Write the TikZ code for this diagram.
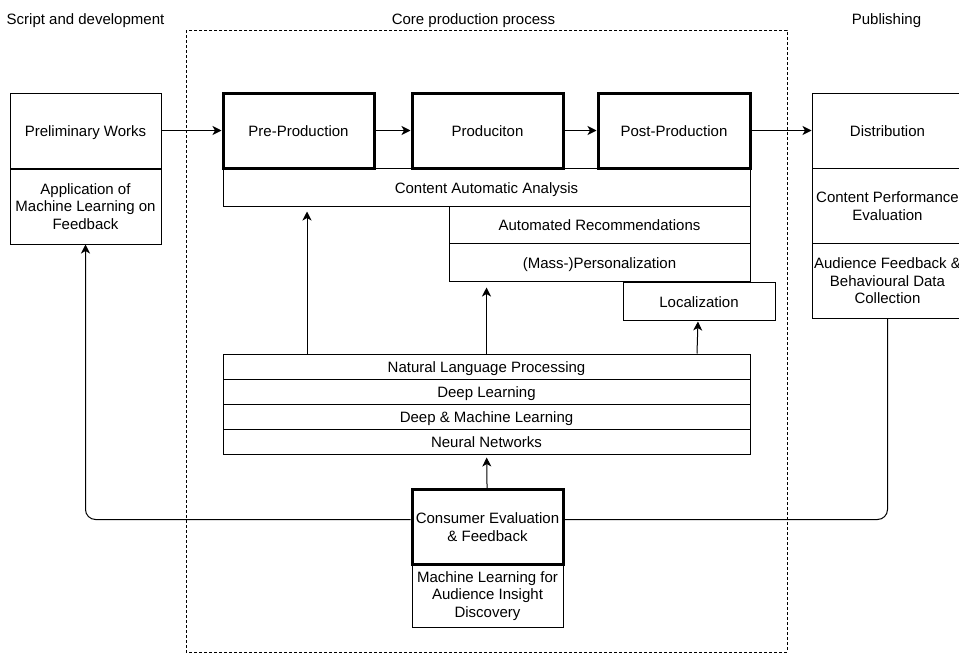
\documentclass[tikz,border=0pt]{standalone}
\usepackage{fontspec}
\setmainfont{Liberation Sans}
\usetikzlibrary{positioning,arrows.meta}

\begin{document}
\begin{tikzpicture}[x=1pt,y=-1pt,
    every node/.style={font=\fontsize{15}{17.5}\selectfont},
    oneline/.style={text height=12.7pt,text depth=0pt},
    box/.style={draw,line width=1pt,minimum width=151pt,minimum height=75pt,inner sep=1pt,align=center},
    stage/.style={box,line width=3pt},
    band/.style={draw,oneline,line width=1pt,minimum height=38pt,inner sep=0pt},
    layer/.style={draw,oneline,line width=1pt,minimum width=527pt,minimum height=25pt,inner sep=0pt},
    arr/.style={-{Stealth[length=9pt,width=9pt,inset=2.5pt]},line width=1pt}]
    \useasboundingbox (0,0) rectangle (959,654);

    % core production frame
    \draw[line width=1pt,dash pattern=on 3pt off 2pt] (186,30) rectangle (787,652);

    \node[oneline] (tscript) at (85.5,18) {Script and development};
    \node[oneline] (tcore) at (473.5,18) {Core production process};
    \node[oneline] (tpub) at (886.5,18) {Publishing};

    \node[box,oneline] (prelim) at (85.5,130.5) {Preliminary Works};
    \node[box] (mlfeed) at (85.5,206.5) {Application of\\Machine Learning on\\Feedback};

    \node[band,minimum width=527pt] (caa) at (486.5,187) {Content Automatic Analysis};
    \node[band,minimum width=301pt,minimum height=37pt] (rec) at (599.5,224.5) {Automated Recommendations};
    \node[band,minimum width=301pt] (pers) at (599.5,262) {(Mass-)Personalization};
    \node[band,minimum width=152pt] (loc) at (699,301) {Localization};

    \node[stage,oneline] (pre) at (298.5,130.5) {Pre-Production};
    \node[stage,oneline] (prod) at (487.5,130.5) {Produciton};
    \node[stage,oneline,minimum width=152pt] (post) at (674,130.5) {Post-Production};

    \node[box,oneline] (dist) at (887.5,130.5) {Distribution};
    \node[box] (perf) at (887.5,206) {Content Performance\\Evaluation};
    \node[box] (aud) at (887.5,281) {Audience Feedback \&\\Behavioural Data\\Collection};

    \node[layer] (nlp) at (486.5,366.5) {Natural Language Processing};
    \node[layer] (dl) at (486.5,391.5) {Deep Learning};
    \node[layer] (dml) at (486.5,416.5) {Deep \& Machine Learning};
    \node[layer] (nn) at (486.5,441.5) {Neural Networks};

    \node[stage] (cons) at (487.5,527) {Consumer Evaluation\\\& Feedback};
    \node[box,minimum height=63pt] (mlaud) at (487.5,596) {Machine Learning for\\Audience Insight\\Discovery};

    \draw[arr] (prelim) -- (pre);
    \draw[arr] (pre) -- (prod);
    \draw[arr] (prod) -- (post);
    \draw[arr] (post) -- (dist);

    \draw[arr,shorten >=5pt] ([xshift=-179.5pt]nlp.north) -- ([xshift=-179.5pt]nlp.north |- caa.south);
    \draw[arr,shorten >=6pt] (nlp.north) -- (nlp.north |- pers.south);
    \draw[arr,shorten >=1pt] ([xshift=210.5pt]nlp.north) -- ([xshift=-1pt]loc.south);
    \draw[arr,shorten >=3pt] (cons) -- (nn);

    \draw[arr,rounded corners=10pt] ([yshift=7.5pt]cons.west) -| (mlfeed.south);
    \draw[line width=1pt,rounded corners=10pt] ([yshift=7.5pt]cons.east) -| (aud.south);
\end{tikzpicture}
\end{document}
